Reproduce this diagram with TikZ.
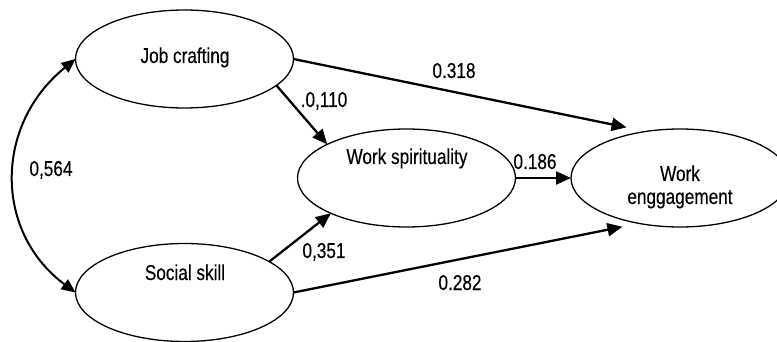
\documentclass[tikz,border=0pt]{standalone}
\usepackage{fontspec}
\setmainfont[FakeStretch=0.80,FakeBold=0.3]{Liberation Sans}
\usetikzlibrary{arrows.meta,shapes.geometric}
\tikzset{
  latent/.style={ellipse, draw=black, line width=1.3pt, inner sep=0pt, outer sep=0pt,
    minimum width=218pt, minimum height=98pt},
  txt/.style={anchor=base, inner sep=0pt, font=\fontsize{21.5}{24}\selectfont},
  path/.style={line width=2.3pt, -{Triangle[length=15pt,width=13pt]}},
  corr/.style={line width=2pt, {Triangle[length=14pt,width=12pt]}-{Triangle[length=14pt,width=12pt]}}
}
\begin{document}
\begin{tikzpicture}[x=1pt,y=-1pt]
\useasboundingbox (0,0) rectangle (777,342);
% latent variables
\node[latent] (jc) at (184.5,59) {};
\node[latent] (ss) at (184.5,292.5) {};
\node[latent] (ws) at (406.5,178) {};
\node[latent] (we) at (680,178) {};
% texts
\node[txt] (jct) at (185,63) {Job crafting};
\node[txt] (sst) at (185,280) {Social skill};
\node[txt] (wst) at (407,164) {Work spirituality};
\node[txt] (wet1) at (680,181) {Work};
\node[txt] (wet2) at (680,204) {enggagement};
% paths
\draw[path, shorten >=20pt] (jc.east) -- (we.126.6);
\draw[path] (jc.-16) -- (ws.157);
\draw[path] (ws.east) -- (we.west);
\draw[path] (ss.20.7) -- (ws.205.5);
\draw[path, shorten >=17pt] (ss.east) -- (we.228.4);
\draw[corr] (jc.west) .. controls (-6,125) and (-6,232) .. (ss.west);
% coefficients
\node[txt] (l1) at (454,78) {0.318};
\node[txt] (l2) at (324,107) {.0,110};
\node[txt] (l3) at (535,169) {0.186};
\node[txt] (l4) at (324,258) {0,351};
\node[txt] (l5) at (460,290) {0.282};
\node[txt] (l6) at (51,176) {0,564};
\end{tikzpicture}
\end{document}
